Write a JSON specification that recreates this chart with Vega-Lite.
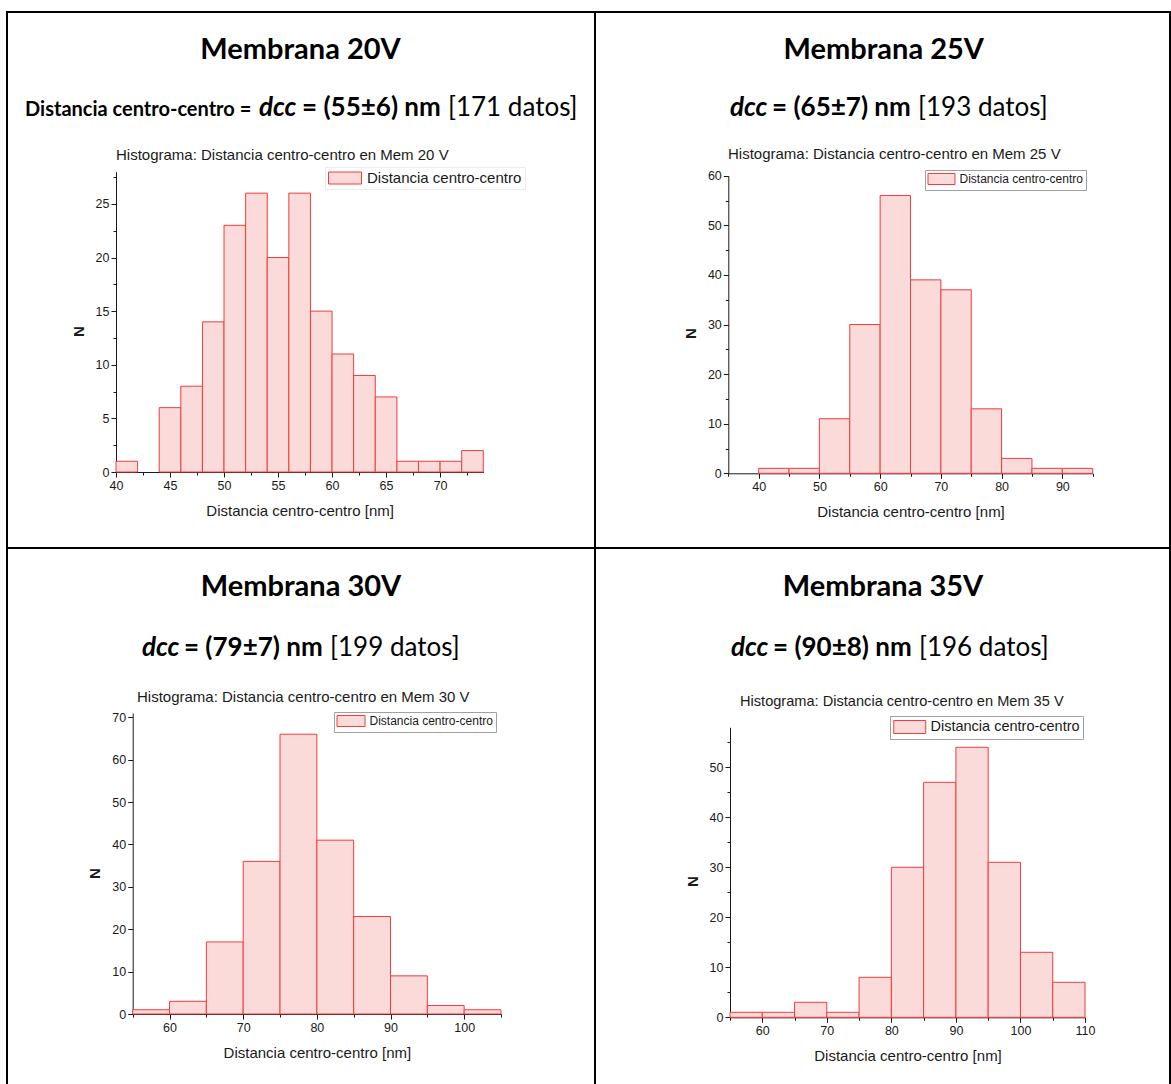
{
  "$schema": "https://vega.github.io/schema/vega-lite/v6.json",
  "padding": {"left": 6, "top": 11, "right": 0, "bottom": 0},
  "background": "white",
  "bounds": "flush",
  "spacing": 0,
  "columns": 2,
  "resolve": {"scale": {"color": "independent"}, "legend": {"color": "independent"}},
  "config": {
    "view": {"stroke": "#000000", "strokeWidth": 2},
    "axis": {
      "grid": false,
      "domainColor": "#1a1a1a",
      "tickColor": "#1a1a1a",
      "labelFont": "Liberation Sans",
      "labelFontSize": 12.5,
      "labelColor": "#1a1a1a",
      "labelPadding": 2,
      "labelFlush": false,
      "labelOverlap": false,
      "titleFont": "Liberation Sans",
      "titleFontSize": 15,
      "titleFontWeight": "normal",
      "titleColor": "#1a1a1a"
    },
    "axisX": {"labelAngle": 0, "titlePadding": 11.5},
    "axisY": {"titleFontWeight": "bold", "titlePadding": 9},
    "legend": {
      "title": null,
      "labelFont": "Liberation Sans",
      "labelColor": "#1a1a1a",
      "symbolStrokeColor": "#f03c3c",
      "symbolStrokeWidth": 1,
      "symbolOpacity": 1,
      "fillColor": "#ffffff",
      "padding": 3
    }
  },
  "concat": [
    {
      "width": 588,
      "height": 536,
      "layer": [
        {
          "data": {"values": [
            {"bin_start": 40, "bin_end": 42, "count": 1},
            {"bin_start": 44, "bin_end": 46, "count": 6},
            {"bin_start": 46, "bin_end": 48, "count": 8},
            {"bin_start": 48, "bin_end": 50, "count": 14},
            {"bin_start": 50, "bin_end": 52, "count": 23},
            {"bin_start": 52, "bin_end": 54, "count": 26},
            {"bin_start": 54, "bin_end": 56, "count": 20},
            {"bin_start": 56, "bin_end": 58, "count": 26},
            {"bin_start": 58, "bin_end": 60, "count": 15},
            {"bin_start": 60, "bin_end": 62, "count": 11},
            {"bin_start": 62, "bin_end": 64, "count": 9},
            {"bin_start": 64, "bin_end": 66, "count": 7},
            {"bin_start": 66, "bin_end": 68, "count": 1},
            {"bin_start": 68, "bin_end": 70, "count": 1},
            {"bin_start": 70, "bin_end": 72, "count": 1},
            {"bin_start": 72, "bin_end": 74, "count": 2}
          ]},
          "mark": {"type": "bar", "stroke": "#f03c3c", "strokeWidth": 1},
          "encoding": {
            "x": {
              "field": "bin_start", "type": "quantitative",
              "scale": {"domain": [40, 74], "range": [109, 476.3], "nice": false, "zero": false},
              "axis": {
                "title": "Distancia centro-centro [nm]",
                "offset": -76,
                "values": [40, 42.5, 45, 47.5, 50, 52.5, 55, 57.5, 60, 62.5, 65, 67.5, 70, 72.5],
                "labelExpr": "datum.value % 5 === 0 ? datum.label : ''",
                "tickSize": {"condition": {"test": "datum.value % 5 !== 0", "value": 3}, "value": 5}
              }
            },
            "x2": {"field": "bin_end"},
            "y": {
              "field": "count", "type": "quantitative",
              "scale": {"domain": [0, 28], "range": [460, 159.7], "nice": false},
              "axis": {
                "title": "N",
                "offset": -109,
                "titleY": 319,
                "values": [0, 2.5, 5, 7.5, 10, 12.5, 15, 17.5, 20, 22.5, 25, 27.5],
                "labelExpr": "datum.value % 5 === 0 ? datum.label : ''",
                "tickSize": {"condition": {"test": "datum.value % 5 !== 0", "value": 3}, "value": 5}
              }
            },
            "y2": {"datum": 0},
            "color": {
              "datum": "Distancia centro-centro",
              "scale": {"range": ["#fbdada"]},
              "legend": {
                "orient": "none", "legendX": 318, "legendY": 155,
                "labelFontSize": 15, "symbolSize": 225,
                "symbolType": "M-1,-0.8H3.4V0.8H-1Z", "labelOffset": 23,
                "strokeColor": "#ececec"
              }
            }
          }
        },
        {
          "data": {"values": [{}]},
          "mark": {"type": "text", "font": "Lato", "fontSize": 29, "fontWeight": "bold", "align": "center", "baseline": "alphabetic", "color": "#000000"},
          "encoding": {"x": {"datum": 57.08, "type": "quantitative"}, "y": {"datum": 38.5, "type": "quantitative"}, "text": {"value": "Membrana 20V"}}
        },
        {
          "data": {"values": [{}]},
          "mark": {"type": "text", "font": "Lato", "fontSize": 20, "fontWeight": "bold", "align": "left", "baseline": "alphabetic", "color": "#000000"},
          "encoding": {"x": {"datum": 31.58, "type": "quantitative"}, "y": {"datum": 33.19, "type": "quantitative"}, "text": {"value": "Distancia centro-centro ="}}
        },
        {
          "data": {"values": [{}]},
          "mark": {"type": "text", "font": "Lato", "fontSize": 26, "fontWeight": "bold", "fontStyle": "italic", "align": "left", "baseline": "alphabetic", "color": "#000000"},
          "encoding": {"x": {"datum": 53.24, "type": "quantitative"}, "y": {"datum": 33.19, "type": "quantitative"}, "text": {"value": "dcc"}}
        },
        {
          "data": {"values": [{}]},
          "mark": {"type": "text", "font": "Lato", "fontSize": 26, "fontWeight": "bold", "align": "left", "baseline": "alphabetic", "color": "#000000"},
          "encoding": {"x": {"datum": 57.22, "type": "quantitative"}, "y": {"datum": 33.19, "type": "quantitative"}, "text": {"value": "= (55±6) nm"}}
        },
        {
          "data": {"values": [{}]},
          "mark": {"type": "text", "font": "Lato", "fontSize": 26, "fontWeight": "normal", "align": "left", "baseline": "alphabetic", "color": "#000000"},
          "encoding": {"x": {"datum": 70.73, "type": "quantitative"}, "y": {"datum": 33.19, "type": "quantitative"}, "text": {"value": "[171 datos]"}}
        },
        {
          "data": {"values": [{}]},
          "mark": {"type": "text", "font": "Liberation Sans", "fontSize": 15, "align": "left", "baseline": "alphabetic", "color": "#1a1a1a"},
          "encoding": {"x": {"datum": 40, "type": "quantitative"}, "y": {"datum": 29.09, "type": "quantitative"}, "text": {"value": "Histograma: Distancia centro-centro en Mem 20 V"}}
        }
      ]
    },
    {
      "width": 575,
      "height": 536,
      "layer": [
        {
          "data": {"values": [
            {"bin_start": 40, "bin_end": 45, "count": 1},
            {"bin_start": 45, "bin_end": 50, "count": 1},
            {"bin_start": 50, "bin_end": 55, "count": 11},
            {"bin_start": 55, "bin_end": 60, "count": 30},
            {"bin_start": 60, "bin_end": 65, "count": 56},
            {"bin_start": 65, "bin_end": 70, "count": 39},
            {"bin_start": 70, "bin_end": 75, "count": 37},
            {"bin_start": 75, "bin_end": 80, "count": 13},
            {"bin_start": 80, "bin_end": 85, "count": 3},
            {"bin_start": 85, "bin_end": 90, "count": 1},
            {"bin_start": 90, "bin_end": 95, "count": 1}
          ]},
          "mark": {"type": "bar", "stroke": "#f03c3c", "strokeWidth": 1},
          "encoding": {
            "x": {
              "field": "bin_start", "type": "quantitative",
              "scale": {"domain": [35, 95], "range": [133.3, 497.7], "nice": false, "zero": false},
              "axis": {
                "title": "Distancia centro-centro [nm]",
                "offset": -74.7,
                "values": [35, 40, 45, 50, 55, 60, 65, 70, 75, 80, 85, 90, 95],
                "labelExpr": "datum.value % 10 === 0 ? datum.label : ''",
                "tickSize": {"condition": {"test": "datum.value % 10 !== 0", "value": 3}, "value": 5}
              }
            },
            "x2": {"field": "bin_end"},
            "y": {
              "field": "count", "type": "quantitative",
              "scale": {"domain": [0, 60], "range": [461.3, 163.7], "nice": false},
              "axis": {
                "title": "N",
                "offset": -133.3,
                "titleY": 321,
                "values": [0, 5, 10, 15, 20, 25, 30, 35, 40, 45, 50, 55, 60],
                "labelExpr": "datum.value % 10 === 0 ? datum.label : ''",
                "tickSize": {"condition": {"test": "datum.value % 10 !== 0", "value": 3}, "value": 5}
              }
            },
            "y2": {"datum": 0},
            "color": {
              "datum": "Distancia centro-centro",
              "scale": {"range": ["#fbdada"]},
              "legend": {
                "orient": "none", "legendX": 330, "legendY": 158,
                "labelFontSize": 12, "symbolSize": 144,
                "symbolType": "M-1,-0.92H3.5V0.92H-1Z", "labelOffset": 19,
                "strokeColor": "#a0a0a0", "padding": 2.5
              }
            }
          }
        },
        {
          "data": {"values": [{}]},
          "mark": {"type": "text", "font": "Lato", "fontSize": 29, "fontWeight": "bold", "align": "center", "baseline": "alphabetic", "color": "#000000"},
          "encoding": {"x": {"datum": 60.6, "type": "quantitative"}, "y": {"datum": 83.53, "type": "quantitative"}, "text": {"value": "Membrana 25V"}}
        },
        {
          "data": {"values": [{}]},
          "mark": {"type": "text", "font": "Lato", "fontSize": 26, "fontWeight": "bold", "fontStyle": "italic", "align": "left", "baseline": "alphabetic", "color": "#000000"},
          "encoding": {"x": {"datum": 35.28, "type": "quantitative"}, "y": {"datum": 72.04, "type": "quantitative"}, "text": {"value": "dcc"}}
        },
        {
          "data": {"values": [{}]},
          "mark": {"type": "text", "font": "Lato", "fontSize": 26, "fontWeight": "bold", "align": "left", "baseline": "alphabetic", "color": "#000000"},
          "encoding": {"x": {"datum": 42.2, "type": "quantitative"}, "y": {"datum": 72.04, "type": "quantitative"}, "text": {"value": "= (65±7) nm"}}
        },
        {
          "data": {"values": [{}]},
          "mark": {"type": "text", "font": "Lato", "fontSize": 26, "fontWeight": "normal", "align": "left", "baseline": "alphabetic", "color": "#000000"},
          "encoding": {"x": {"datum": 66.24, "type": "quantitative"}, "y": {"datum": 72.04, "type": "quantitative"}, "text": {"value": "[193 datos]"}}
        },
        {
          "data": {"values": [{}]},
          "mark": {"type": "text", "font": "Liberation Sans", "fontSize": 15, "align": "left", "baseline": "alphabetic", "color": "#1a1a1a"},
          "encoding": {"x": {"datum": 34.95, "type": "quantitative"}, "y": {"datum": 63.27, "type": "quantitative"}, "text": {"value": "Histograma: Distancia centro-centro en Mem 25 V"}}
        }
      ]
    },
    {
      "width": 588,
      "height": 537,
      "layer": [
        {
          "data": {"values": [
            {"bin_start": 55, "bin_end": 60, "count": 1},
            {"bin_start": 60, "bin_end": 65, "count": 3},
            {"bin_start": 65, "bin_end": 70, "count": 17},
            {"bin_start": 70, "bin_end": 75, "count": 36},
            {"bin_start": 75, "bin_end": 80, "count": 66},
            {"bin_start": 80, "bin_end": 85, "count": 41},
            {"bin_start": 85, "bin_end": 90, "count": 23},
            {"bin_start": 90, "bin_end": 95, "count": 9},
            {"bin_start": 95, "bin_end": 100, "count": 2},
            {"bin_start": 100, "bin_end": 105, "count": 1}
          ]},
          "mark": {"type": "bar", "stroke": "#f03c3c", "strokeWidth": 1},
          "encoding": {
            "x": {
              "field": "bin_start", "type": "quantitative",
              "scale": {"domain": [55, 105], "range": [125.7, 494], "nice": false, "zero": false},
              "axis": {
                "title": "Distancia centro-centro [nm]",
                "offset": -71,
                "values": [55, 60, 65, 70, 75, 80, 85, 90, 95, 100, 105],
                "labelExpr": "datum.value % 10 === 0 ? datum.label : ''",
                "tickSize": {"condition": {"test": "datum.value % 10 !== 0", "value": 3}, "value": 5}
              }
            },
            "x2": {"field": "bin_end"},
            "y": {
              "field": "count", "type": "quantitative",
              "scale": {"domain": [0, 71], "range": [466, 165], "nice": false},
              "axis": {
                "title": "N",
                "offset": -125.7,
                "titleY": 325,
                "values": [0, 5, 10, 15, 20, 25, 30, 35, 40, 45, 50, 55, 60, 65, 70],
                "labelExpr": "datum.value % 10 === 0 ? datum.label : ''",
                "tickSize": {"condition": {"test": "datum.value % 10 !== 0", "value": 3}, "value": 5}
              }
            },
            "y2": {"datum": 0},
            "color": {
              "datum": "Distancia centro-centro",
              "scale": {"range": ["#fbdada"]},
              "legend": {
                "orient": "none", "legendX": 327, "legendY": 164,
                "labelFontSize": 12, "symbolSize": 144,
                "symbolType": "M-1,-0.92H3.67V0.92H-1Z", "labelOffset": 20,
                "strokeColor": "#a0a0a0", "padding": 2.5
              }
            }
          }
        },
        {
          "data": {"values": [{}]},
          "mark": {"type": "text", "font": "Lato", "fontSize": 29, "fontWeight": "bold", "align": "center", "baseline": "alphabetic", "color": "#000000"},
          "encoding": {"x": {"datum": 77.85, "type": "quantitative"}, "y": {"datum": 98.61, "type": "quantitative"}, "text": {"value": "Membrana 30V"}}
        },
        {
          "data": {"values": [{}]},
          "mark": {"type": "text", "font": "Lato", "fontSize": 26, "fontWeight": "bold", "fontStyle": "italic", "align": "left", "baseline": "alphabetic", "color": "#000000"},
          "encoding": {"x": {"datum": 56.26, "type": "quantitative"}, "y": {"datum": 84.45, "type": "quantitative"}, "text": {"value": "dcc"}}
        },
        {
          "data": {"values": [{}]},
          "mark": {"type": "text", "font": "Lato", "fontSize": 26, "fontWeight": "bold", "align": "left", "baseline": "alphabetic", "color": "#000000"},
          "encoding": {"x": {"datum": 61.96, "type": "quantitative"}, "y": {"datum": 84.45, "type": "quantitative"}, "text": {"value": "= (79±7) nm"}}
        },
        {
          "data": {"values": [{}]},
          "mark": {"type": "text", "font": "Lato", "fontSize": 26, "fontWeight": "normal", "align": "left", "baseline": "alphabetic", "color": "#000000"},
          "encoding": {"x": {"datum": 81.79, "type": "quantitative"}, "y": {"datum": 84.45, "type": "quantitative"}, "text": {"value": "[199 datos]"}}
        },
        {
          "data": {"values": [{}]},
          "mark": {"type": "text", "font": "Liberation Sans", "fontSize": 15, "align": "left", "baseline": "alphabetic", "color": "#1a1a1a"},
          "encoding": {"x": {"datum": 55.58, "type": "quantitative"}, "y": {"datum": 73.67, "type": "quantitative"}, "text": {"value": "Histograma: Distancia centro-centro en Mem 30 V"}}
        }
      ]
    },
    {
      "width": 575,
      "height": 537,
      "layer": [
        {
          "data": {"values": [
            {"bin_start": 55, "bin_end": 60, "count": 1},
            {"bin_start": 60, "bin_end": 65, "count": 1},
            {"bin_start": 65, "bin_end": 70, "count": 3},
            {"bin_start": 70, "bin_end": 75, "count": 1},
            {"bin_start": 75, "bin_end": 80, "count": 8},
            {"bin_start": 80, "bin_end": 85, "count": 30},
            {"bin_start": 85, "bin_end": 90, "count": 47},
            {"bin_start": 90, "bin_end": 95, "count": 54},
            {"bin_start": 95, "bin_end": 100, "count": 31},
            {"bin_start": 100, "bin_end": 105, "count": 13},
            {"bin_start": 105, "bin_end": 110, "count": 7}
          ]},
          "mark": {"type": "bar", "stroke": "#f03c3c", "strokeWidth": 1},
          "encoding": {
            "x": {
              "field": "bin_start", "type": "quantitative",
              "scale": {"domain": [55, 110], "range": [135, 490], "nice": false, "zero": false},
              "axis": {
                "title": "Distancia centro-centro [nm]",
                "offset": -67.7,
                "values": [55, 60, 65, 70, 75, 80, 85, 90, 95, 100, 105, 110],
                "labelExpr": "datum.value % 10 === 0 ? datum.label : ''",
                "tickSize": {"condition": {"test": "datum.value % 10 !== 0", "value": 3}, "value": 5}
              }
            },
            "x2": {"field": "bin_end"},
            "y": {
              "field": "count", "type": "quantitative",
              "scale": {"domain": [0, 58], "range": [469.3, 179.3], "nice": false},
              "axis": {
                "title": "N",
                "offset": -135,
                "titleY": 333,
                "values": [0, 5, 10, 15, 20, 25, 30, 35, 40, 45, 50, 55],
                "labelExpr": "datum.value % 10 === 0 ? datum.label : ''",
                "tickSize": {"condition": {"test": "datum.value % 10 !== 0", "value": 3}, "value": 5}
              }
            },
            "y2": {"datum": 0},
            "color": {
              "datum": "Distancia centro-centro",
              "scale": {"range": ["#fbdada"]},
              "legend": {
                "orient": "none", "legendX": 295, "legendY": 168,
                "labelFontSize": 14.5, "symbolSize": 210,
                "symbolType": "M-1,-0.9H3.41V0.9H-1Z", "labelOffset": 21.5,
                "strokeColor": "#a0a0a0"
              }
            }
          }
        },
        {
          "data": {"values": [{}]},
          "mark": {"type": "text", "font": "Lato", "fontSize": 29, "fontWeight": "bold", "align": "center", "baseline": "alphabetic", "color": "#000000"},
          "encoding": {"x": {"datum": 78.7, "type": "quantitative"}, "y": {"datum": 84.26, "type": "quantitative"}, "text": {"value": "Membrana 35V"}}
        },
        {
          "data": {"values": [{}]},
          "mark": {"type": "text", "font": "Lato", "fontSize": 26, "fontWeight": "bold", "fontStyle": "italic", "align": "left", "baseline": "alphabetic", "color": "#000000"},
          "encoding": {"x": {"datum": 55.15, "type": "quantitative"}, "y": {"datum": 72.26, "type": "quantitative"}, "text": {"value": "dcc"}}
        },
        {
          "data": {"values": [{}]},
          "mark": {"type": "text", "font": "Lato", "fontSize": 26, "fontWeight": "bold", "align": "left", "baseline": "alphabetic", "color": "#000000"},
          "encoding": {"x": {"datum": 61.66, "type": "quantitative"}, "y": {"datum": 72.26, "type": "quantitative"}, "text": {"value": "= (90±8) nm"}}
        },
        {
          "data": {"values": [{}]},
          "mark": {"type": "text", "font": "Lato", "fontSize": 26, "fontWeight": "normal", "align": "left", "baseline": "alphabetic", "color": "#000000"},
          "encoding": {"x": {"datum": 84.28, "type": "quantitative"}, "y": {"datum": 72.26, "type": "quantitative"}, "text": {"value": "[196 datos]"}}
        },
        {
          "data": {"values": [{}]},
          "mark": {"type": "text", "font": "Liberation Sans", "fontSize": 14.6, "align": "left", "baseline": "alphabetic", "color": "#1a1a1a"},
          "encoding": {"x": {"datum": 56.55, "type": "quantitative"}, "y": {"datum": 62.26, "type": "quantitative"}, "text": {"value": "Histograma: Distancia centro-centro en Mem 35 V"}}
        }
      ]
    }
  ]
}
